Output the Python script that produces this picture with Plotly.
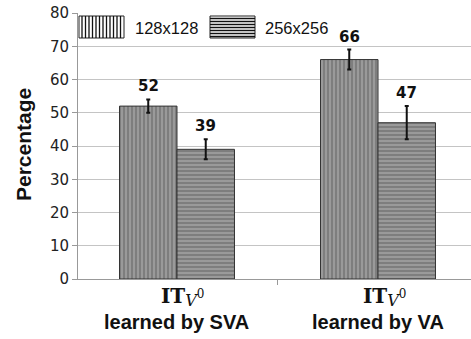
import plotly.graph_objects as go

# Data
categories = [0, 1]
series_names = ["128x128", "256x256"]
values_128 = [52, 66]
errors_128 = [2, 3]
values_256 = [39, 47]
errors_256 = [3, 5]
y_ticks = [0, 10, 20, 30, 40, 50, 60, 70, 80]
method_labels = ["learned by SVA", "learned by VA"]

W, H = 471, 339
ML, MR, MT, MB = 78, 0, 13, 60
PW, PH = W - ML - MR, H - MT - MB
X_RANGE = [-0.4925, 1.4627]
Y_RANGE = [0, 80]
BARGAP = 0.428
bar_w = (1 - BARGAP) / 2


def px_x(p):
    return (p - ML) / PW


def px_y(p):
    return (H - MB - p) / PH


fig = go.Figure()

fig.add_trace(go.Bar(
    x=categories, y=values_128, name=series_names[0],
    marker=dict(color="#888888",
                line=dict(color="#333333", width=1),
                pattern=dict(shape="|", fgcolor="#545454", bgcolor="#9a9a9a",
                             size=4, solidity=0.4)),
    error_y=dict(type="data", array=errors_128, color="#111111",
                 thickness=2, width=2),
    showlegend=False,
))
fig.add_trace(go.Bar(
    x=categories, y=values_256, name=series_names[1],
    marker=dict(color="#888888",
                line=dict(color="#333333", width=1),
                pattern=dict(shape="-", fgcolor="#545454", bgcolor="#9a9a9a",
                             size=4, solidity=0.4)),
    error_y=dict(type="data", array=errors_256, color="#111111",
                 thickness=2, width=2),
    showlegend=False,
))

annotations = []
# value labels above the error bars
for vals, errs, off in [(values_128, errors_128, -bar_w / 2),
                        (values_256, errors_256, bar_w / 2)]:
    for c, v, e in zip(categories, vals, errs):
        annotations.append(dict(
            x=c + off, y=v + e, xref="x", yref="y", text=f"<b>{v}</b>",
            showarrow=False, yanchor="middle", yshift=13,
            font=dict(family="DejaVu Sans", size=15, color="#111111")))

# category labels: IT with subscript V and raised 0
it_label = ("<b>IT</b>"
            "<span style='font-size:16px;font-style:italic;baseline-shift:-3px'>V</span>"
            "<span style='font-size:12px;baseline-shift:5px'>0</span>")
for c, lab in zip(categories, method_labels):
    annotations.append(dict(
        x=c, y=px_y(297), xref="x", yref="paper", text=it_label,
        showarrow=False, yanchor="middle", xshift=6,
        font=dict(family="DejaVu Serif", size=20, color="#111111")))
    annotations.append(dict(
        x=c, y=px_y(322), xref="x", yref="paper", text=f"<b>{lab}</b>",
        showarrow=False, yanchor="middle",
        font=dict(family="Liberation Sans", size=20, color="#111111")))

# y axis title
annotations.append(dict(
    x=px_x(23), y=px_y(145), xref="paper", yref="paper",
    text="<b>Percentage</b>", textangle=-90, showarrow=False,
    xanchor="center", yanchor="middle",
    font=dict(family="Liberation Sans", size=21, color="#111111")))

# legend: patterned swatches and labels
shapes = []
legend_items = [(79, 124, "|", series_names[0], 133),
                (210, 255, "-", series_names[1], 263)]
sw_top, sw_bot = 16, 38
for x0, x1, kind, label, tx in legend_items:
    shapes.append(dict(type="rect", xref="paper", yref="paper",
                       x0=px_x(x0), x1=px_x(x1), y0=px_y(sw_bot), y1=px_y(sw_top),
                       fillcolor="white", line=dict(color="#222222", width=1)))
    if kind == "|":
        step = 3.5
        p = x0 + 3
        while p < x1 - 1:
            shapes.append(dict(type="line", xref="paper", yref="paper",
                               x0=px_x(p), x1=px_x(p),
                               y0=px_y(sw_bot), y1=px_y(sw_top),
                               line=dict(color="#111111", width=1.3)))
            p += step
    else:
        step = 3.0
        p = sw_top + 2.5
        while p < sw_bot - 1:
            shapes.append(dict(type="line", xref="paper", yref="paper",
                               x0=px_x(x0), x1=px_x(x1),
                               y0=px_y(p), y1=px_y(p),
                               line=dict(color="#111111", width=1.3)))
            p += step
    annotations.append(dict(
        x=px_x(tx), y=px_y(28), xref="paper", yref="paper", text=label,
        showarrow=False, xanchor="left", yanchor="middle",
        font=dict(family="Liberation Sans", size=16.5, color="#111111")))

fig.update_layout(
    width=W, height=H,
    margin=dict(l=ML, r=MR, t=MT, b=MB, pad=0),
    paper_bgcolor="white", plot_bgcolor="white",
    barmode="group", bargap=BARGAP, bargroupgap=0,
    shapes=shapes, annotations=annotations,
    xaxis=dict(range=X_RANGE, tickmode="array", tickvals=[0.5],
               showticklabels=False, ticks="outside", ticklen=5,
               tickcolor="#999999", showgrid=False, zeroline=False,
               showline=True, linecolor="#999999", linewidth=1),
    yaxis=dict(range=Y_RANGE, tickmode="array", tickvals=y_ticks,
               ticks="outside", ticklen=5, tickcolor="#999999",
               showgrid=True, gridcolor="#c4c4c4", gridwidth=1,
               zeroline=False, showline=True, linecolor="#999999",
               linewidth=1,
               tickfont=dict(family="DejaVu Sans", size=15, color="#222222")),
)

fig.write_html("out.html")
